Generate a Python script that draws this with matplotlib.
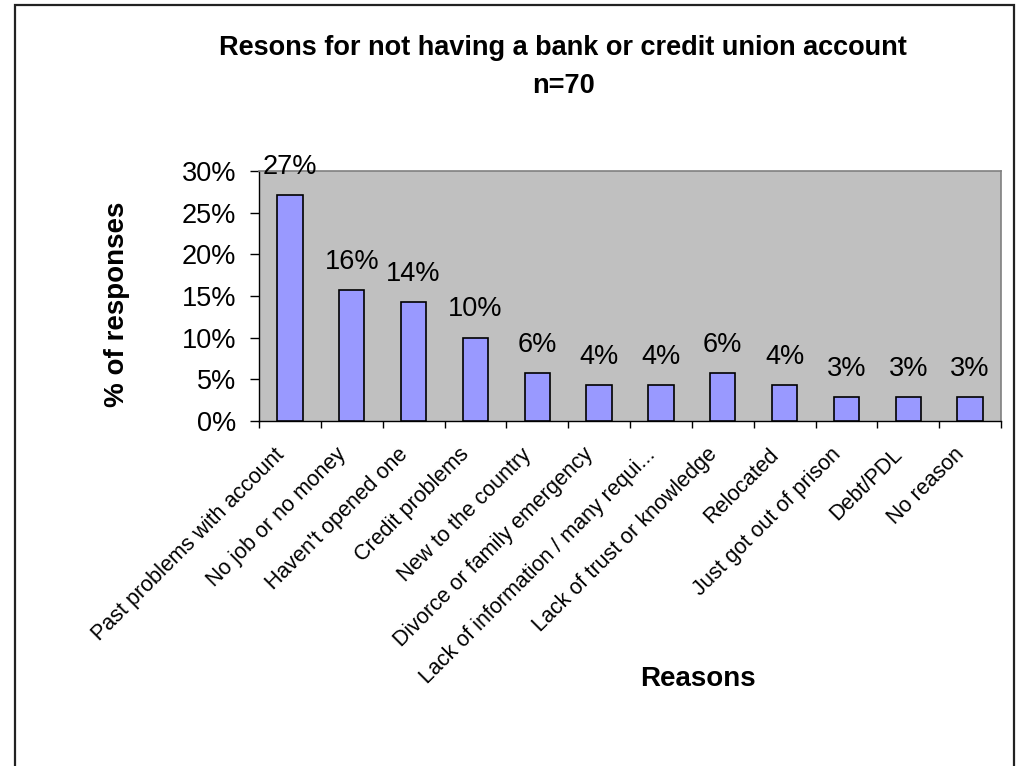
import matplotlib
matplotlib.use("Agg")
import matplotlib.pyplot as plt
from matplotlib.patches import Rectangle
from matplotlib.ticker import FixedLocator, FuncFormatter
from matplotlib.transforms import ScaledTranslation
import numpy as np

plt.rcParams['font.family'] = ['Liberation Sans', 'DejaVu Sans']

# Survey data (n = 70 respondents)
reasons = [
    "Past problems with account",
    "No job or no money",
    "Haven't opened one",
    "Credit problems",
    "New to the country",
    "Divorce or family emergency",
    "Lack of information / many requi...",
    "Lack of trust or knowledge",
    "Relocated",
    "Just got out of prison",
    "Debt/PDL",
    "No reason",
]
counts = [19, 11, 10, 7, 4, 3, 3, 4, 3, 2, 2, 2]
n_total = 70
percent = [c / n_total * 100 for c in counts]

W, H = 1018, 766
fig = plt.figure(figsize=(W / 100, H / 100), dpi=100)

# Chart-area outline
fig.patches.append(Rectangle((15 / W, -0.02), (1014 - 15) / W, 1 - 5 / H + 0.02,
                             transform=fig.transFigure, fill=False,
                             edgecolor='#222222', linewidth=1.6, zorder=0))

ax = fig.add_axes([259 / W, 1 - 421 / H, (1001 - 259) / W, (421 - 171) / H])
ax.set_facecolor('#C0C0C0')

x = np.arange(len(reasons))
bars = ax.bar(x, percent, width=0.41, color='#9999FF', edgecolor='black',
              linewidth=1.2, zorder=3)

for xi, p in zip(x, percent):
    ax.annotate(f"{p:.0f}%", (xi, p), xytext=(0, 11), textcoords='offset points',
                ha='center', va='bottom', fontsize=19.5, color='black')

ax.set_xlim(-0.5, len(reasons) - 0.5)
ax.set_ylim(0, 30)
ax.set_yticks(np.arange(0, 31, 5))
ax.yaxis.set_major_formatter(FuncFormatter(lambda v, pos: f"{v:.0f}%"))
ax.tick_params(axis='y', labelsize=19.5, length=6.5, width=1, pad=10, direction='out')

ax.set_xticks(x)
ax.set_xticklabels(reasons, rotation=45, ha='right', va='center',
                   rotation_mode='anchor', fontsize=15.5)
ax.tick_params(axis='x', which='major', length=0, pad=22)
shift = ScaledTranslation(-9 / 100, 0, fig.dpi_scale_trans)
for lbl in ax.get_xticklabels():
    lbl.set_transform(lbl.get_transform() + shift)
ax.xaxis.set_minor_locator(FixedLocator(np.arange(-0.5, len(reasons), 1.0)))
ax.tick_params(axis='x', which='minor', length=5, width=1, direction='out')

for side in ('top', 'right'):
    ax.spines[side].set_color('#808080')
    ax.spines[side].set_linewidth(1.2)
for side in ('left', 'bottom'):
    ax.spines[side].set_color('black')
    ax.spines[side].set_linewidth(1.0)

fig.text(563 / W, 1 - 48 / H, "Resons for not having a bank or credit union account",
         ha='center', va='center', fontsize=19.5, fontweight='bold')
fig.text(563 / W, 1 - 86 / H, "n=70", ha='center', va='center',
         fontsize=19.5, fontweight='bold')

fig.text(117 / W, 1 - 304 / H, "% of responses", rotation=90, ha='center',
         va='center', fontsize=20, fontweight='bold')
fig.text(698 / W, 1 - 679 / H, "Reasons", ha='center', va='center',
         fontsize=20, fontweight='bold')

fig.savefig("out.png", dpi=100, facecolor='white')
